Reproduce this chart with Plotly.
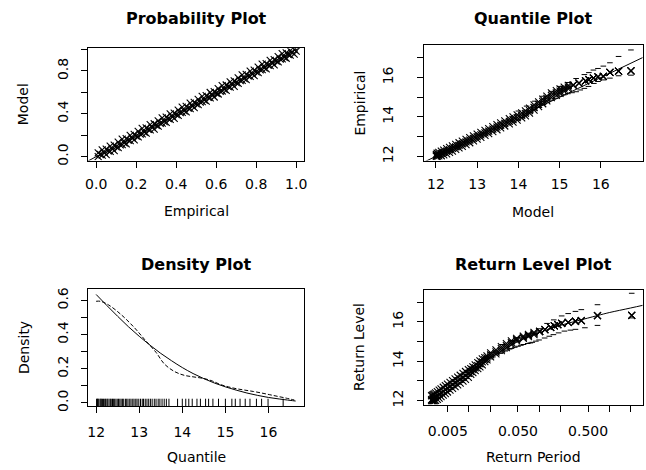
import plotly.graph_objects as go

# ---------------- data ----------------
# Probability plot
pp_empirical = [0.01,0.03,0.05,0.07,0.09,0.11,0.13,0.15,0.17,0.19,0.21,0.23,0.25,0.27,0.29,0.31,0.33,0.35,0.37,0.39,
                0.41,0.43,0.45,0.47,0.49,0.51,0.53,0.55,0.57,0.59,0.61,0.63,0.65,0.67,0.69,0.71,0.73,0.75,0.77,0.79,
                0.81,0.83,0.85,0.87,0.89,0.91,0.93,0.95,0.97,0.99]
pp_empirical_b = [0.02,0.04,0.06,0.08,0.10,0.12,0.14,0.16,0.18,0.20,0.22,0.24,0.26,0.28,0.30,0.32,0.34,0.36,0.38,0.40,
                  0.42,0.44,0.46,0.48,0.50,0.52,0.54,0.56,0.58,0.60,0.62,0.64,0.66,0.68,0.70,0.72,0.74,0.76,0.78,0.80,
                  0.82,0.84,0.86,0.88,0.90,0.92,0.94,0.96,0.98,1.00]
pp_model_lo = [0.0,0.013,0.019,0.049,0.057,0.085,0.113,0.119,0.149,0.157,0.185,0.213,0.219,0.249,0.257,0.285,0.313,0.319,0.349,0.357,
               0.385,0.413,0.419,0.449,0.457,0.485,0.513,0.519,0.549,0.557,0.585,0.613,0.619,0.649,0.657,0.685,0.713,0.719,0.749,0.757,
               0.785,0.813,0.819,0.849,0.857,0.885,0.913,0.919,0.949,0.957]
pp_model_hi = [0.035,0.063,0.069,0.099,0.107,0.135,0.163,0.169,0.199,0.207,0.235,0.263,0.269,0.299,0.307,0.335,0.363,0.369,0.399,0.407,
               0.435,0.463,0.469,0.499,0.507,0.535,0.563,0.569,0.599,0.607,0.635,0.663,0.669,0.699,0.707,0.735,0.763,0.769,0.799,0.807,
               0.835,0.863,0.869,0.899,0.907,0.935,0.963,0.969,0.99,1.0]
pp_model_mid = [0.02,0.038,0.054,0.074,0.092,0.11,0.128,0.154,0.174,0.192,0.21,0.228,0.254,0.274,0.292,0.31,0.328,0.354,0.374,0.392,
                0.41,0.428,0.454,0.474,0.492,0.51,0.528,0.554,0.574,0.592,0.61,0.628,0.654,0.674,0.692,0.71,0.728,0.754,0.774,0.792,
                0.81,0.828,0.854,0.874,0.892,0.91,0.928,0.954,0.974,0.985]

# Quantile plot
qq_model = [12.01,12.03,12.07,12.13,12.19,12.26,12.33,12.40,12.48,12.56,12.64,12.73,12.82,12.91,13.00,13.09,13.19,13.28,13.38,13.48,
            13.57,13.67,13.78,13.87,13.97,14.08,14.17,14.27,14.38,14.49,14.59,14.69,14.80,14.92,15.01,15.11,15.21,15.33,15.47,15.63,
            15.71,15.82,15.93,16.06,16.22,16.43,16.73]
qq_emp_lo = [12.00,12.00,12.02,12.03,12.07,12.13,12.20,12.27,12.35,12.43,12.51,12.60,12.69,12.78,12.87,12.96,13.06,13.15,13.25,13.35,
             13.44,13.54,13.65,13.74,13.84,13.95,14.05,14.19,14.35,14.52,14.67,14.82,14.98,15.10,15.20,15.31,15.42,15.61,15.72,15.83,
             15.89,15.97,16.03,16.06,16.26,16.33,16.34]
qq_emp_mid = [12.05,12.08,12.11,12.15,12.20,12.26,12.33,12.40,12.48,12.56,12.64,12.73,12.82,12.91,13.00,13.09,13.19,13.28,13.38,13.48,
              13.57,13.67,13.78,13.87,13.97,14.08,14.18,14.32,14.48,14.64,14.79,14.94,15.10,15.22,15.31,15.41,15.51,15.61,15.72,15.83,
              15.89,15.97,16.03,16.06,16.26,16.33,16.34]
qq_emp_hi = [12.10,12.16,12.20,12.26,12.32,12.39,12.46,12.53,12.61,12.69,12.77,12.86,12.95,13.04,13.13,13.22,13.32,13.41,13.51,13.61,
             13.70,13.80,13.91,14.00,14.10,14.21,14.31,14.45,14.61,14.76,14.91,15.06,15.22,15.34,15.42,15.51,15.60,15.61,15.72,15.83,
             15.89,15.97,16.03,16.06,16.26,16.33,16.34]
qq_ref_line = [11.0, 18.0]
qq_lower_x = [14.0,14.1,14.2,14.3,14.4,14.5,14.6,14.7,14.8,14.9,15.0,15.1,15.2,15.3,15.4,15.5,15.6,15.7,15.83,15.93,16.06,16.22,16.43,16.73]
qq_lower_y = [13.85,13.97,14.1,14.22,14.35,14.48,14.62,14.75,14.85,14.95,15.05,15.12,15.18,15.23,15.28,15.37,15.45,15.55,15.70,15.80,15.88,15.97,16.09,16.12]
qq_upper_x = [14.0,14.2,14.4,14.6,14.8,15.0,15.2,15.4,15.6,15.71,15.82,15.93,16.06,16.22,16.43,16.73]
qq_upper_y = [14.3,14.55,14.8,15.05,15.3,15.55,15.75,15.95,16.15,16.25,16.38,16.46,16.58,16.75,17.07,17.40]

# Density plot
dens_x = [12.0,12.25,12.5,12.75,13.0,13.25,13.5,13.75,14.0,14.25,14.5,14.75,15.0,15.25,15.5,15.75,16.0,16.25,16.5,16.63]
dens_model = [0.635,0.570,0.507,0.446,0.390,0.338,0.290,0.247,0.207,0.172,0.142,0.116,0.094,0.075,0.058,0.044,0.032,0.023,0.015,0.011]
kde_x = [12.0,12.1,12.28,12.58,12.89,13.12,13.39,13.58,13.81,14.04,14.27,14.5,14.7,14.88,15.07,15.26,15.45,15.65,15.84,16.03,16.22,16.41,16.6]
kde_y = [0.595,0.595,0.575,0.517,0.44,0.373,0.296,0.229,0.185,0.162,0.152,0.143,0.128,0.108,0.094,0.083,0.075,0.067,0.058,0.048,0.038,0.028,0.017]
rug_values = [12.01,12.03,12.04,12.06,12.09,12.11,12.12,12.15,12.17,12.20,12.22,12.25,12.27,12.30,12.33,12.35,12.38,12.40,12.43,12.46,
              12.49,12.52,12.55,12.58,12.61,12.64,12.68,12.71,12.74,12.78,12.81,12.85,12.88,12.92,12.95,12.99,13.03,13.07,13.10,13.14,
              13.18,13.22,13.26,13.30,13.35,13.39,13.44,13.48,13.53,13.58,13.63,13.69,13.89,14.00,14.08,14.15,14.23,14.34,14.42,14.54,
              14.61,14.71,14.84,15.00,15.15,15.23,15.34,15.46,15.57,15.72,15.84,15.99,16.34]

# Return level plot
rl_period = [0.00294,0.00303,0.00311,0.00321,0.00335,0.00355,0.00377,0.00401,0.00431,0.00462,0.00495,0.00538,0.00585,0.00636,0.00692,
             0.00752,0.00824,0.00895,0.00982,0.01064,0.0114,0.0123,0.0134,0.01436,0.01552,0.01687,0.01811,0.0204,0.0243,0.0290,
             0.0342,0.0403,0.0479,0.0597,0.0705,0.0847,0.102,0.121,0.1465,0.165,0.185,0.21,0.26,0.33,0.40,0.68,2.09]
rl_level_lo = [12.00,12.00,12.00,12.00,12.02,12.06,12.13,12.20,12.28,12.36,12.44,12.53,12.62,12.71,12.80,12.89,12.99,13.08,13.18,13.33,
               13.42,13.52,13.63,13.72,13.82,13.98,14.07,14.22,14.38,14.54,14.69,14.84,15.04,15.16,15.25,15.35,15.51,15.61,15.72,15.80,
               15.86,15.92,15.97,16.03,16.06,16.32,16.33]
rl_level_mid = [12.05,12.08,12.11,12.15,12.20,12.26,12.33,12.40,12.48,12.56,12.64,12.73,12.82,12.91,13.00,13.09,13.19,13.28,13.38,13.48,
                13.57,13.67,13.78,13.87,13.97,14.08,14.17,14.32,14.48,14.64,14.79,14.94,15.10,15.22,15.31,15.41,15.51,15.61,15.72,15.80,
                15.86,15.92,15.97,16.03,16.06,16.32,16.33]
rl_level_hi = [12.25,12.28,12.31,12.35,12.40,12.46,12.53,12.60,12.68,12.76,12.84,12.93,13.02,13.11,13.20,13.29,13.39,13.48,13.58,13.63,
               13.72,13.82,13.93,14.02,14.12,14.18,14.27,14.42,14.58,14.74,14.89,15.04,15.16,15.28,15.37,15.47,15.51,15.61,15.72,15.80,
               15.86,15.92,15.97,16.03,16.06,16.32,16.33]
rl_model_period = [0.0029,0.005,0.01,0.02,0.05,0.1,0.2,0.35,0.68,1.0,2.0,3.2]
rl_model_level = [12.0,12.62,13.35,14.15,15.0,15.45,15.82,16.05,16.32,16.47,16.7,16.86]
rl_lower_period = [0.003,0.004,0.005,0.0065,0.008,0.01,0.012,0.015,0.018,0.02,0.022,0.025,0.028,0.03,0.033,0.035,0.038,0.04,0.045,0.05,
                   0.055,0.06,0.069,0.075,0.08,0.09,0.1,0.12,0.14,0.16,0.19,0.23,0.28,0.33,0.45,0.68,2.09]
rl_lower_level = [11.95,12.3,12.55,12.85,13.05,13.25,13.5,13.75,13.97,14.12,14.22,14.32,14.4,14.46,14.52,14.57,14.62,14.65,14.71,14.76,
                  14.81,14.85,14.9,14.93,14.96,15.02,15.08,15.18,15.27,15.35,15.44,15.53,15.58,15.62,15.70,15.82,16.2]
rl_upper_period = [0.003,0.005,0.01,0.015,0.02,0.03,0.04,0.05,0.07,0.1,0.13,0.162,0.21,0.26,0.33,0.40,0.68,2.09]
rl_upper_level = [12.15,12.8,13.55,14.05,14.45,14.85,15.05,15.2,15.42,15.65,15.92,16.1,16.3,16.42,16.53,16.62,16.87,17.45]

# ticks
pp_ticks = [0.0, 0.2, 0.4, 0.6, 0.8, 1.0]
pp_x_text = ["0.0", "0.2", "0.4", "0.6", "0.8", "1.0"]
pp_y_text = ["0.0", "", "0.4", "", "0.8", ""]
q_ticks = [12, 13, 14, 15, 16]
q_text = ["12", "13", "14", "15", "16"]
lvl_ticks = [12, 13, 14, 15, 16, 17]
lvl_text = ["12", "", "14", "", "16", ""]
dens_ticks = [0.0, 0.1, 0.2, 0.3, 0.4, 0.5, 0.6]
dens_text = ["0.0", "", "0.2", "", "0.4", "", "0.6"]
rp_ticks = [0.005, 0.01, 0.02, 0.05, 0.1, 0.2, 0.5, 1, 2]
rp_text = ["0.005", "", "", "0.050", "", "", "0.500", "", ""]

# ---------------- figure ----------------
W, H = 646, 470
FONT = "DejaVu Sans"
BLACK = "black"

xmark = dict(symbol="x-thin-open", size=7, color=BLACK, line=dict(width=1.1, color=BLACK))
bandmark = dict(symbol="line-ew-open", size=4, color=BLACK, line=dict(width=1, color=BLACK))

fig = go.Figure()

# Panel 1: probability plot
fig.add_trace(go.Scatter(x=[-0.2, 1.2], y=[-0.2, 1.2], mode="lines", line=dict(color=BLACK, width=1), xaxis="x", yaxis="y"))
fig.add_trace(go.Scatter(x=pp_empirical, y=pp_model_lo, mode="markers", marker=xmark, xaxis="x", yaxis="y"))
fig.add_trace(go.Scatter(x=pp_empirical, y=pp_model_hi, mode="markers", marker=xmark, xaxis="x", yaxis="y"))
fig.add_trace(go.Scatter(x=pp_empirical_b, y=pp_model_mid, mode="markers", marker=xmark, xaxis="x", yaxis="y"))

# Panel 2: quantile plot
fig.add_trace(go.Scatter(x=qq_ref_line, y=qq_ref_line, mode="lines", line=dict(color=BLACK, width=1), xaxis="x2", yaxis="y2"))
for ys in (qq_emp_lo, qq_emp_mid, qq_emp_hi):
    fig.add_trace(go.Scatter(x=qq_model, y=ys, mode="markers", marker=xmark, xaxis="x2", yaxis="y2"))
fig.add_trace(go.Scatter(x=qq_lower_x, y=qq_lower_y, mode="markers", marker=bandmark, xaxis="x2", yaxis="y2"))
fig.add_trace(go.Scatter(x=qq_upper_x, y=qq_upper_y, mode="markers", marker=bandmark, xaxis="x2", yaxis="y2"))

# Panel 3: density plot
fig.add_trace(go.Scatter(x=dens_x, y=dens_model, mode="lines", line=dict(color=BLACK, width=1, shape="spline"), xaxis="x3", yaxis="y3"))
fig.add_trace(go.Scatter(x=kde_x, y=kde_y, mode="lines", line=dict(color=BLACK, width=1, dash="4px,2px", shape="spline"), xaxis="x3", yaxis="y3"))
fig.add_trace(go.Scatter(x=rug_values, y=[0] * len(rug_values), mode="markers",
                         marker=dict(symbol="line-ns-open", size=6, color=BLACK, line=dict(width=1, color=BLACK)),
                         xaxis="x3", yaxis="y3"))

# Panel 4: return level plot
fig.add_trace(go.Scatter(x=rl_model_period, y=rl_model_level, mode="lines", line=dict(color=BLACK, width=1, shape="spline"), xaxis="x4", yaxis="y4"))
for ys in (rl_level_lo, rl_level_mid, rl_level_hi):
    fig.add_trace(go.Scatter(x=rl_period, y=ys, mode="markers", marker=xmark, xaxis="x4", yaxis="y4"))
fig.add_trace(go.Scatter(x=rl_lower_period, y=rl_lower_level, mode="markers", marker=bandmark, xaxis="x4", yaxis="y4"))
fig.add_trace(go.Scatter(x=rl_upper_period, y=rl_upper_level, mode="markers", marker=bandmark, xaxis="x4", yaxis="y4"))


def axis(domain, rng, vals, texts, anchor, vertical=False, standoff=4, typ="linear"):
    d = dict(domain=domain, range=rng, type=typ, anchor=anchor,
             tickmode="array", tickvals=vals, ticktext=texts,
             showgrid=False, zeroline=False, showline=True, linecolor=BLACK, linewidth=1, mirror=True,
             ticks="outside", ticklen=6, tickwidth=1, tickcolor=BLACK,
             tickfont=dict(family=FONT, size=14, color=BLACK),
             ticklabelstandoff=standoff, fixedrange=True)
    if vertical:
        d["tickangle"] = -90
    return d


def px_x(p):
    return p / W


def px_y(p):
    return 1 - p / H


fig.update_layout(
    width=W, height=H, margin=dict(l=0, r=0, t=0, b=0),
    paper_bgcolor="white", plot_bgcolor="white", showlegend=False,
    xaxis=axis([px_x(86), px_x(304)], [-0.04, 1.04], pp_ticks, pp_x_text, "y", standoff=5),
    yaxis=axis([px_y(162), px_y(48)], [-0.037, 1.012], pp_ticks, pp_y_text, "x", vertical=True, standoff=8),
    xaxis2=axis([px_x(425), px_x(645.5)], [11.712, 17.01], q_ticks, q_text, "y2", standoff=5),
    yaxis2=axis([px_y(162), px_y(45)], [11.785, 17.635], lvl_ticks, lvl_text, "x2", vertical=True, standoff=18),
    xaxis3=axis([px_x(86), px_x(304)], [11.816, 16.828], q_ticks, q_text, "y3", standoff=7),
    yaxis3=axis([px_y(411), px_y(292)], [-0.0173, 0.669], dens_ticks, dens_text, "x3", vertical=True, standoff=8),
    xaxis4=axis([px_x(425), px_x(645.5)], [-2.639, 0.474], rp_ticks, rp_text, "y4", standoff=7, typ="log"),
    yaxis4=axis([px_y(410), px_y(293)], [11.785, 17.635], lvl_ticks, lvl_text, "x4", vertical=True, standoff=8),
)

titles = [
    ("Probability Plot", 195, 18), ("Quantile Plot", 535, 18),
    ("Density Plot", 195, 267), ("Return Level Plot", 535, 267),
]
for text, x, y in titles:
    fig.add_annotation(text="<b>%s</b>" % text, x=px_x(x), y=px_y(y), xref="paper", yref="paper",
                       showarrow=False, xanchor="center", yanchor="middle",
                       font=dict(family=FONT, size=16, color=BLACK))

labels = [
    ("Empirical", 195, 213, 0), ("Model", 535, 214, 0),
    ("Model", 21, 105, -90), ("Empirical", 360, 103.5, -90),
    ("Quantile", 195, 463, 0), ("Return Period", 535, 463, 0),
    ("Density", 21, 351.5, -90), ("Return Level", 360, 351.5, -90),
]
for text, x, y, ang in labels:
    fig.add_annotation(text=text, x=px_x(x), y=px_y(y), xref="paper", yref="paper",
                       showarrow=False, xanchor="center", yanchor="middle", textangle=ang,
                       font=dict(family=FONT, size=14, color=BLACK))

fig.write_html("out.html")
